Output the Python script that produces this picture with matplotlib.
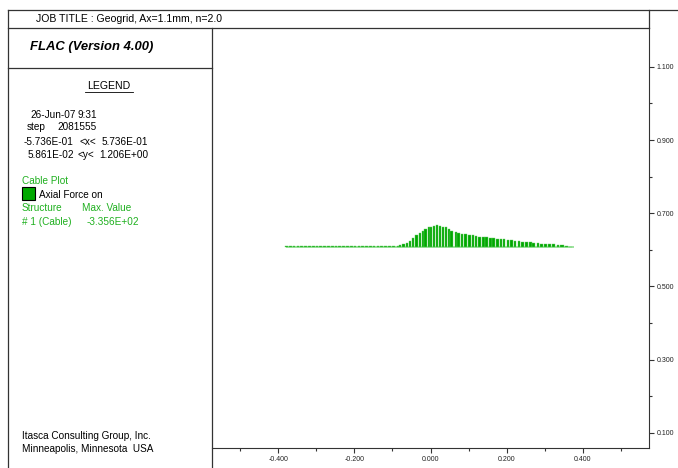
"""FLAC cable plot: axial force along geogrid (Ax=1.1mm, n=2.0)."""
import numpy as np
import matplotlib
matplotlib.use("Agg")
import matplotlib.pyplot as plt
from matplotlib.lines import Line2D
from matplotlib.patches import Rectangle

plt.rcParams["font.family"] = ["Liberation Sans", "DejaVu Sans"]

W, H = 678, 468

# cable segment centres (m) and axial force (kN)
seg_x = [-0.378, -0.368, -0.358, -0.348, -0.338, -0.328, -0.318, -0.308,
         -0.298, -0.288, -0.278, -0.268, -0.258, -0.248, -0.238, -0.228,
         -0.218, -0.208, -0.198, -0.188, -0.178, -0.168, -0.158, -0.148,
         -0.138, -0.128, -0.118, -0.108, -0.098,
         -0.086, -0.080, -0.071, -0.062, -0.053, -0.045, -0.037, -0.028,
         -0.020, -0.013, -0.004, 0.002, 0.010, 0.017, 0.025, 0.033, 0.040,
         0.048, 0.056,
         0.067, 0.074, 0.083, 0.091, 0.102, 0.111, 0.120, 0.129, 0.139,
         0.147, 0.157, 0.166, 0.176, 0.185, 0.193, 0.203, 0.212, 0.222,
         0.232, 0.242,
         0.251, 0.262, 0.271, 0.282, 0.291, 0.302, 0.312, 0.323, 0.335,
         0.345, 0.357, 0.368]
axial = [-12, -12, -12, -12, -12, -12, -12, -12,
         -12, -12, -12, -12, -12, -12, -12, -12,
         -12, -12, -12, -12, -12, -12, -12, -12,
         -12, -12, -14, -16, -20,
         -26, -41, -56, -71, -90, -140, -185, -215,
         -241, -275, -306, -301, -321, -335.6, -321, -306, -301,
         -275, -251,
         -230, -215, -200, -200, -185, -185, -170, -155, -155,
         -155, -140, -140, -125, -125, -125, -110, -110, -95,
         -95, -80,
         -80, -75, -65, -65, -56, -50, -50, -45, -35,
         -30, -20, -10]

cable_y = 0.607
cable_x0, cable_x1 = -0.379, 0.376
force_scale = 0.0609 / 335.6   # plot units per kN

x_major = [-0.4, -0.2, 0.0, 0.2, 0.4]
x_minor = [-0.5, -0.3, -0.1, 0.1, 0.3, 0.5]
y_major = [0.1, 0.3, 0.5, 0.7, 0.9, 1.1]
y_minor = [0.2, 0.4, 0.6, 0.8, 1.0]

green = "#1fb01f"
fs = 7.2   # legend text size


def fx(px):
    return px / W


def fy(py):
    return 1 - py / H


fig = plt.figure(figsize=(W / 100, H / 100), dpi=100)
ax = fig.add_axes([fx(212), fy(448), fx(649) - fx(212), fy(28) - fy(448)])
ax.set_xlim(-0.5736, 0.5736)
ax.set_ylim(0.05861, 1.206)

# cable with axial force bars
ax.plot([cable_x0, cable_x1], [cable_y, cable_y], color="#8ede8e", lw=1.2,
        zorder=1, solid_capstyle="butt")
widths = np.diff(seg_x + [seg_x[-1] + 0.011]) * 0.72
ax.bar(seg_x, np.abs(axial) * force_scale, width=widths, bottom=cable_y,
       color="#00a800", edgecolor="#66cc66", linewidth=0.3, zorder=2)

for s in ("left", "top"):
    ax.spines[s].set_visible(False)
for s in ("bottom", "right"):
    ax.spines[s].set_linewidth(0.8)
    ax.spines[s].set_color("#333333")

ax.set_xticks(x_major)
ax.set_xticks(x_minor, minor=True)
ax.set_xticklabels([f"{v:.3f}" for v in x_major])
ax.yaxis.tick_right()
ax.set_yticks(y_major)
ax.set_yticks(y_minor, minor=True)
ax.set_yticklabels([f"{v:.3f}" for v in y_major])
ax.tick_params(which="major", direction="out", length=3.6, width=0.8,
               labelsize=5, pad=2, color="#333333", labelcolor="#222222")
ax.tick_params(which="minor", direction="out", length=2.2, width=0.8,
               color="#333333")

# frame lines of the FLAC plot sheet
frame = [((8, 10), (678, 10)), ((8, 10), (8, 468)), ((8, 28), (649, 28)),
         ((212, 28), (212, 468)), ((8, 68), (212, 68)), ((649, 10), (649, 28))]
for (x0, y0), (x1, y1) in frame:
    fig.add_artist(Line2D([fx(x0), fx(x1)], [fy(y0), fy(y1)],
                          color="#333333", lw=0.9))

fig.text(fx(36), fy(19), "JOB TITLE : Geogrid, Ax=1.1mm, n=2.0",
         fontsize=7.6, va="center")
fig.text(fx(30), fy(47), "FLAC (Version 4.00)", fontsize=9.4,
         fontweight="bold", fontstyle="italic", va="center")
fig.text(fx(109), fy(86), "LEGEND", fontsize=7.6, va="center", ha="center")
fig.add_artist(Line2D([fx(85), fx(133)], [fy(92), fy(92)], color="black",
                      lw=0.6))

# legend block, one token at a time (x, y in sheet pixels)
tokens = [(30, 115, "26-Jun-07", "black"), (77, 115, "9:31", "black"),
          (27, 127, "step", "black"), (57, 127, "2081555", "black"),
          (24, 142, "-5.736E-01", "black"), (79, 142, "<x<", "black"),
          (102, 142, "5.736E-01", "black"),
          (28, 155, "5.861E-02", "black"), (78, 155, "<y<", "black"),
          (99, 155, "1.206E+00", "black"),
          (22, 181, "Cable Plot", green),
          (39, 195, "Axial Force on", "black"),
          (22, 208, "Structure", green), (82, 208, "Max. Value", green),
          (22, 222, "# 1 (Cable)", green), (87, 222, "-3.356E+02", green),
          (22, 436, "Itasca Consulting Group, Inc.", "black"),
          (22, 449, "Minneapolis, Minnesota  USA", "black")]
for px, py, s, c in tokens:
    fig.text(fx(px), fy(py), s, fontsize=fs, va="center", color=c)

fig.add_artist(Rectangle((fx(22), fy(200)), fx(35) - fx(22), fy(187) - fy(200),
                         transform=fig.transFigure, facecolor="#00a800",
                         edgecolor="black", lw=0.8))

fig.savefig("out.png", dpi=100)
